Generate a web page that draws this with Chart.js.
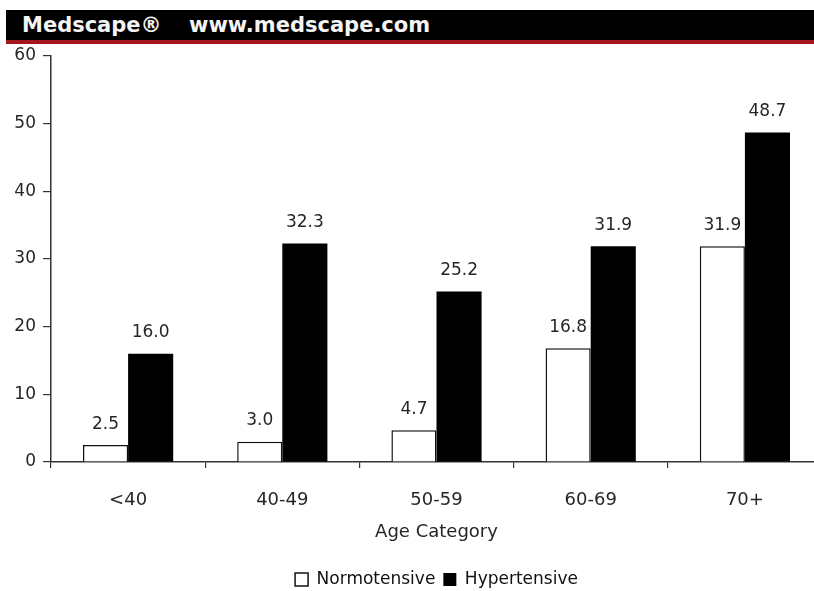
<!DOCTYPE html>
<html>
<head>
<meta charset="utf-8">
<script src="https://cdn.jsdelivr.net/npm/chart.js@4"></script>
<style>
  html, body { margin: 0; padding: 0; background: #fff; overflow: hidden; }
  body { width: 814px; height: 591px; position: relative; }
  #banner {
    position: absolute; left: 6px; top: 10px; width: 808px; height: 30px;
    background: #000; border-bottom: 4px solid #a3161c;
    font-family: "DejaVu Sans", sans-serif; font-weight: bold;
    color: #f4f4f4; font-size: 21px; line-height: 31px; z-index: 2;
  }
  #banner span { position: absolute; top: 0; }
  #wrap { position: absolute; left: 0; top: 0; width: 822px; height: 598px; }
</style>
</head>
<body>
<div id="banner"><span style="left:16px">Medscape®</span><span style="left:183px">www.medscape.com</span></div>
<div id="wrap"><canvas id="c" width="822" height="598"></canvas></div>
<script>
const categories = ["<40", "40-49", "50-59", "60-69", "70+"];
const normotensive = [2.5, 3.0, 4.7, 16.8, 31.9];
const hypertensive = [16.0, 32.3, 25.2, 31.9, 48.7];
const yTicks = [0, 10, 20, 30, 40, 50, 60];

const FONT = "'DejaVu Sans', sans-serif";
const INK = "#262626";
const X_AXIS_H = 101;

// writes each bar's value above it
const valueLabels = {
  id: "valueLabels",
  afterDatasetsDraw(chart) {
    const ctx = chart.ctx;
    ctx.save();
    ctx.font = "17px " + FONT;
    ctx.fillStyle = INK;
    ctx.textAlign = "center";
    ctx.textBaseline = "middle";
    chart.data.datasets.forEach((ds, i) => {
      chart.getDatasetMeta(i).data.forEach((bar, j) => {
        ctx.fillText(ds.data[j].toFixed(1), bar.x, bar.y - 21);
      });
    });
    ctx.restore();
  }
};

new Chart(document.getElementById("c"), {
  type: "bar",
  data: {
    labels: categories,
    datasets: [
      { label: "Normotensive", data: normotensive, backgroundColor: "#fff",
        borderColor: "#111", borderWidth: 1.5, borderSkipped: "bottom" },
      { label: "Hypertensive", data: hypertensive, backgroundColor: "#000",
        borderColor: "#000", borderWidth: 0 }
    ]
  },
  options: {
    responsive: false,
    animation: false,
    layout: { padding: { top: 56, right: 0, left: 0, bottom: 0 } },
    datasets: { bar: { categoryPercentage: 0.585, barPercentage: 1.0 } },
    plugins: {
      tooltip: { enabled: false },
      legend: {
        position: "bottom",
        fullSize: false,
        labels: {
          boxWidth: 13, boxHeight: 13, padding: 8,
          color: "#111", font: { family: FONT, size: 17 }
        }
      }
    },
    scales: {
      x: {
        grid: { display: true, drawOnChartArea: false, drawTicks: true, tickLength: 6,
                color: "#333", lineWidth: 1.2, offset: true },
        border: { display: true, color: "#333", width: 1.5 },
        ticks: { color: INK, font: { family: FONT, size: 18 }, padding: 22 },
        title: { display: true, text: "Age Category", color: INK,
                 font: { family: FONT, size: 18 }, padding: { top: 8, bottom: 20 } },
        afterFit(scale) { scale.height = X_AXIS_H; }
      },
      y: {
        min: 0, max: 60,
        afterBuildTicks(scale) { scale.ticks = yTicks.map(v => ({ value: v })); },
        grid: { display: true, drawOnChartArea: false, drawTicks: true, tickLength: 8,
                color: "#333", lineWidth: 1.2 },
        border: { display: true, color: "#333", width: 1.5 },
        ticks: { color: INK, font: { family: FONT, size: 17 }, padding: 7 },
        afterFit(scale) { scale.width = 51; }
      }
    }
  },
  plugins: [valueLabels]
});
</script>
</body>
</html>
